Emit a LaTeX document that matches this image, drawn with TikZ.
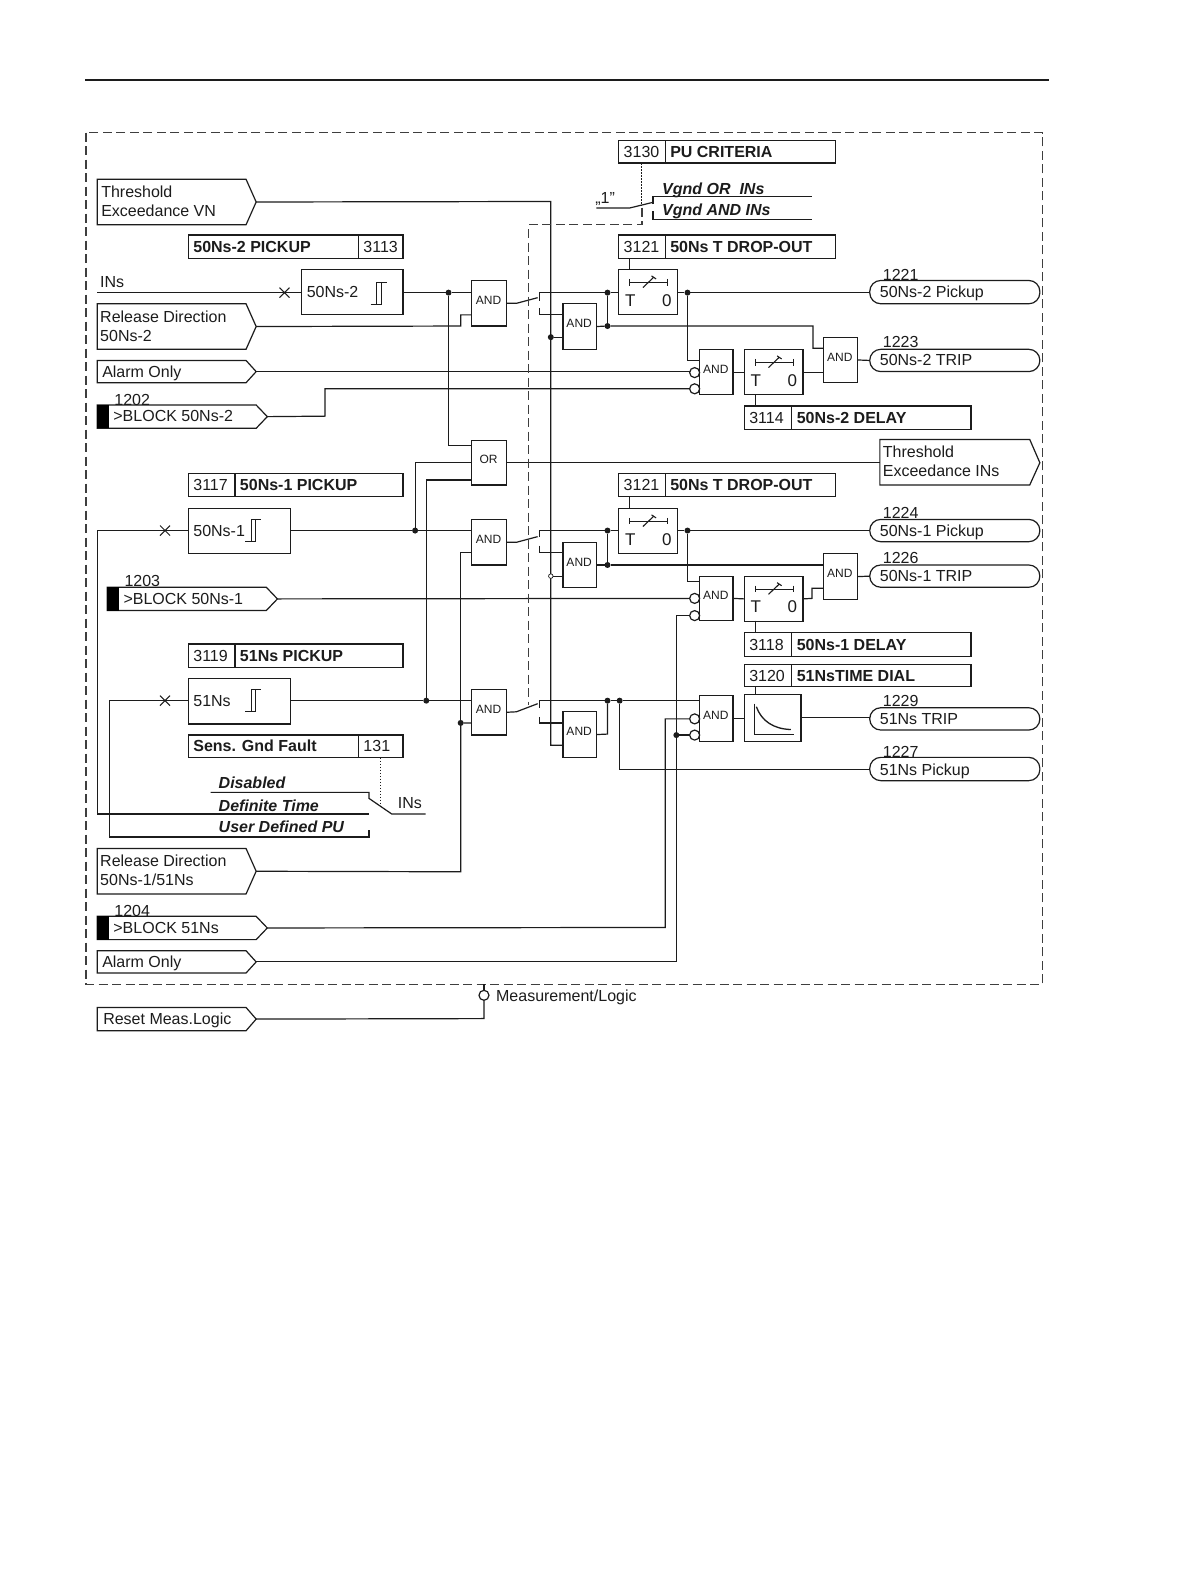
\documentclass[tikz,border=0pt]{standalone}
\usepackage{fontspec}
\setmainfont{Liberation Sans}
\usetikzlibrary{fit,shapes.misc,calc}
\definecolor{ink}{HTML}{1c1c1c}
\tikzset{
  txt/.style={anchor=west,inner sep=0pt,outer sep=0pt,text=ink,font=\fontsize{16}{19}\selectfont,text height=11.5pt,text depth=0pt},
  mtxt/.style={anchor=west,inner sep=0pt,outer sep=0pt,text=ink,font=\fontsize{16}{19}\selectfont,align=left},
  btxt/.style={txt,font=\fontsize{16}{19}\selectfont\bfseries},
  itxt/.style={txt,font=\fontsize{16}{19}\selectfont\bfseries\itshape},
  gtxt/.style={inner sep=0pt,text=ink,font=\fontsize{12}{14}\selectfont},
  ttxt/.style={inner sep=0pt,text=ink,font=\fontsize{17}{19}\selectfont},
  bx/.style={draw=ink,line width=1.2pt,inner sep=0pt,outer sep=0pt},
  dot/.style={circle,fill=ink,inner sep=0pt,outer sep=0pt,minimum size=6pt},
  odot/.style={circle,draw=ink,line width=0.7pt,fill=white,inner sep=0pt,minimum size=4.5pt},
  inv/.style={circle,draw=ink,line width=1.2pt,fill=white,inner sep=0pt,outer sep=0pt,minimum size=10pt},
  xm/.style={cross out,draw=ink,line width=1pt,inner sep=0pt,outer sep=0pt,minimum size=10pt},
  dsh/.style={draw=ink!85,line width=1.2pt,dash pattern=on 9pt off 4.5pt},
  dotl/.style={draw=ink,line width=0.9pt,dash pattern=on 1.5pt off 1.5pt},
}
% box by corners
\newcommand{\bxx}[6][]{\path (#3,#4) coordinate (#2-a) (#5,#6) coordinate (#2-b);
  \node[bx,fit=(#2-a)(#2-b),#1] (#2) {};}
% gate: name,x1,y1,x2,y2,label
\newcommand{\gate}[6]{\bxx{#1}{#2}{#3}{#4}{#5}\node[gtxt,yshift=3pt,xshift=-0.5pt] (#1-t) at (#1.center) {#6};}
% parameter table: number left, bold title right
\newcommand{\ptab}[8]{\bxx{#1-l}{#2}{#3}{#4}{#6}\bxx{#1-r}{#4}{#3}{#5}{#6}
  \node[txt] (#1-lt) at ($(#2+5,#3)!.5!(#2+5,#6)$) {#7};
  \node[btxt] (#1-rt) at ($(#4+5,#3)!.5!(#4+5,#6)$) {#8};}
% same, bold title left, number right
\newcommand{\qtab}[8]{\bxx{#1-l}{#2}{#3}{#4}{#6}\bxx{#1-r}{#4}{#3}{#5}{#6}
  \node[btxt] (#1-lt) at ($(#2+5,#3)!.5!(#2+5,#6)$) {#7};
  \node[txt] (#1-rt) at ($(#4+5,#3)!.5!(#4+5,#6)$) {#8};}
% pentagon: name,x1,y1,shoulder,tip,y2 ; coordinate name at the tip
\newcommand{\pent}[6]{\draw[ink,line width=1.2pt] (#2,#3) -- (#4,#3) -- (#5,{(#3+#6)/2}) coordinate (#1) -- (#4,#6) -- (#2,#6) -- cycle;}
% timer: name,x,y
\newcommand{\tmr}[3]{\bxx{#1}{#2}{#3}{#2+58}{#3+45}
  \begin{scope}[shift={(#2,#3)}]
    \draw[ink,line width=1.1pt] (11,9.5) -- (11,16) (11,12.8) -- (48.5,12.8) (48.5,9.5) -- (48.5,16);
    \draw[ink,line width=1.1pt] (24,18) -- (35,7.5) (32.5,6.5) -- (37,9.5);
    \node[ttxt] (#1-T) at (11.5,30.5) {T};
    \node[ttxt] (#1-O) at (47.5,30.5) {0};
  \end{scope}}
% hysteresis symbol centred at x,y
\newcommand{\hyst}[2]{\begin{scope}[shift={(#1,#2)}]
    \draw[ink,line width=1.1pt] (-8,11) -- (2.5,11) -- (2.5,-11) (-2,11) -- (-2,-11) -- (8,-11);
  \end{scope}}
\begin{document}
\begin{tikzpicture}[x=1.0125pt,y=-1.0125pt]
\useasboundingbox (0,0) rectangle (1176.3,1567.4);
\fill[white] (0,0) rectangle (1176.3,1567.4);
\draw[ink,line width=1.1pt] (84,79) -- (1036,79);
\draw[dsh] (85,131) rectangle (1030,972);

% gates
\gate{a1}{466}{277}{500}{322}{AND}
\gate{a2}{556}{300}{589}{345}{AND}
\gate{a3}{691}{345}{724}{390}{AND}
\gate{a4}{813}{333}{847}{378}{AND}
\gate{or}{466}{435}{500}{479}{OR}
\gate{a5}{466}{513}{500}{558}{AND}
\gate{a6}{556}{536}{589}{580}{AND}
\gate{a7}{691}{569}{724}{613}{AND}
\gate{a8}{813}{547}{847}{592}{AND}
\gate{a9}{466}{681}{500}{726}{AND}
\gate{a10}{556}{703}{589}{748}{AND}
\gate{a11}{691}{687}{724}{732}{AND}

% timers
\tmr{t1}{611}{266}
\tmr{t2}{735}{345}
\tmr{t3}{611}{502}
\tmr{t4}{735}{569}
\bxx{cb}{735}{686}{791}{732}
\draw[ink,line width=1.1pt] (745,695) -- (745,725) -- (784,725);
\draw[ink,line width=1.3pt] (747,698) .. controls (752,712) and (764,720) .. (781,720.5);

% pickup boxes
\bxx{p2}{298}{266}{398}{311}
\node[txt] (p2-t) at (303,288) {50Ns-2};
\hyst{374}{290}
\bxx{p1}{186}{502}{287}{547}
\node[txt] (p1-t) at (191,524) {50Ns-1};
\hyst{250}{524}
\bxx{p3}{186}{670}{287}{715}
\node[txt] (p3-t) at (191,692) {51Ns};
\hyst{250}{692}

% parameter tables
\ptab{pu}{611}{139}{657}{825}{161}{3130}{PU CRITERIA}
\qtab{pk2}{186}{232}{354}{398}{255}{50Ns-2 PICKUP}{3113}
\ptab{dr1}{611}{232}{657}{825}{255}{3121}{50Ns T DROP-OUT}
\ptab{dl2}{735}{401}{782}{959}{424}{3114}{50Ns-2 DELAY}
\ptab{dr2}{611}{468}{657}{825}{490}{3121}{50Ns T DROP-OUT}
\ptab{pk1}{186}{468}{232}{398}{490}{3117}{50Ns-1 PICKUP}
\ptab{pk3}{186}{636}{232}{398}{659}{3119}{51Ns PICKUP}
\ptab{dl1}{735}{625}{782}{959}{648}{3118}{50Ns-1 DELAY}
\ptab{td}{735}{656}{782}{959}{678}{3120}{51NsTIME DIAL}
\qtab{sgf}{186}{726}{354}{398}{748}{Sens. Gnd Fault}{131}

% input pentagons
\pent{tvn}{96}{177}{243}{253}{222}
\node[mtxt] (tvn-t) at (100,199) {Threshold\\Exceedance VN};
\pent{rd2}{96}{300}{243}{253}{345}
\node[mtxt] (rd2-t) at (99,322) {Release Direction\\50Ns-2};
\pent{al1}{96}{356}{243}{253}{378}
\node[txt] (al1-t) at (101,367) {Alarm Only};
\pent{bl2}{96}{400}{253}{264}{423}
\fill[black] (96,400) rectangle (108,423);
\node[txt] (bl2-t) at (112,411) {>BLOCK 50Ns-2};
\node[txt] (n1202) at (113,395) {1202};
\pent{bl1}{106}{580}{263}{274}{603}
\fill[black] (106,580) rectangle (118,603);
\node[txt] (bl1-t) at (122,591) {>BLOCK 50Ns-1};
\node[txt] (n1203) at (123,574) {1203};
\pent{rd1}{96}{838}{243}{253}{883}
\node[mtxt] (rd1-t) at (99,860) {Release Direction\\50Ns-1/51Ns};
\pent{bl3}{96}{905}{253}{264}{928}
\fill[black] (96,905) rectangle (108,928);
\node[txt] (bl3-t) at (112,916) {>BLOCK 51Ns};
\node[txt] (n1204) at (113,899) {1204};
\pent{al2}{96}{939}{243}{253}{961}
\node[txt] (al2-t) at (101,950) {Alarm Only};
\pent{rst}{96}{995}{243}{253}{1018}
\node[txt] (rst-t) at (102,1006) {Reset Meas.Logic};
% output pentagon
\path (869,457) coordinate (tins);
\draw[ink,line width=1.2pt] (869,434) -- (1017,434) -- (1027,457) -- (1017,479) -- (869,479) -- cycle;
\node[mtxt] (tins-t) at (872,456) {Threshold\\Exceedance INs};

% output lozenges
\bxx[rounded corners=11pt]{o1}{859}{277}{1027}{300}
\node[txt] (o1-t) at (869,288) {50Ns-2 Pickup};
\node[txt] (n1221) at (872,271) {1221};
\bxx[rounded corners=11pt]{o2}{859}{345}{1027}{367}
\node[txt] (o2-t) at (869,355) {50Ns-2 TRIP};
\node[txt] (n1223) at (872,338) {1223};
\bxx[rounded corners=11pt]{o3}{859}{513}{1027}{535}
\node[txt] (o3-t) at (869,524) {50Ns-1 Pickup};
\node[txt] (n1224) at (872,506) {1224};
\bxx[rounded corners=11pt]{o4}{859}{558}{1027}{580}
\node[txt] (o4-t) at (869,569) {50Ns-1 TRIP};
\node[txt] (n1226) at (872,551) {1226};
\bxx[rounded corners=11pt]{o5}{859}{699}{1027}{721}
\node[txt] (o5-t) at (869,710) {51Ns TRIP};
\node[txt] (n1229) at (872,692) {1229};
\bxx[rounded corners=11pt]{o6}{859}{748}{1027}{771}
\node[txt] (o6-t) at (869,760) {51Ns Pickup};
\node[txt] (n1227) at (872,742) {1227};

% free labels
\node[txt] (ins1) at (99,278) {INs};
\node[txt] (ins2) at (393,793) {INs};
\node[txt] (q1) at (588,195) {„1"};
\node[itxt] (vor) at (654,186) {Vgnd OR\ \ INs};
\node[itxt] (vand) at (654,207) {Vgnd AND INs};
\node[itxt] (dis) at (216,773) {Disabled};
\node[itxt] (dft) at (216,796) {Definite Time};
\node[itxt] (udp) at (216,817) {User Defined PU};
\node[txt] (ml) at (490,983) {Measurement/Logic};

% junctions and named free ends
\node[dot] (d1) at (443,289) {};
\node[dot] (d2) at (600,289) {};
\node[dot] (d3) at (600,322) {};
\node[dot] (d4) at (679,289) {};
\node[dot] (d5) at (544,333) {};
\node[dot] (d6) at (410,524) {};
\node[dot] (d7) at (600,524) {};
\node[dot] (d8) at (600,558) {};
\node[dot] (d9) at (679,524) {};
\node[dot] (d10) at (421,692) {};
\node[dot] (d11) at (455,714) {};
\node[dot] (d12) at (600,692) {};
\node[dot] (d13) at (612,692) {};
\node[dot] (d14) at (668,726) {};
\coordinate (inl) at (96,289);
\coordinate (c1) at (96,524);
\coordinate (c2) at (108,692);
\coordinate (sdis) at (208,782.6);
\coordinate (sdef) at (364.4,804);
\coordinate (sudp) at (364.4,826.7);

% inverted inputs
\node[inv,anchor=east] (i1) at (691,368) {};
\node[inv,anchor=east] (i2) at (691,384) {};
\node[inv,anchor=east] (i3) at (691,591) {};
\node[inv,anchor=east] (i4) at (691,608) {};
\node[inv,anchor=east] (i5) at (691,710) {};
\node[inv,anchor=east] (i6) at (691,726) {};
\node[inv] (i7) at (478,983) {};

% connectors
\begin{scope}[ink,line width=1.2pt]
% tier 1
\draw (inl) -- (p2.west |- inl);
\node[xm] (x1) at (281,289) {};
\draw (p2.east |- d1) -- (d1) -- (a1.west |- d1);
\draw (d1) -- (443,440) -- (or.west |- 0,440);
\draw (rd2) -- (455,322) -- (455,311) -- (a1.west |- 0,311);
\draw (al1) -- (i1.west |- al1) ;
\draw (bl2) -- (321,411) -- (321,384) -- (i2.west);
\draw (a1.east) -- (510,299.6) -- (531,294);
\draw (533,297) -- (533,289) -- (d2) -- (t1.west |- d2);
\draw (533,304.5) -- (533,311) -- (a2.west |- 0,311);
\draw (d2) -- (d3);
\draw (a2.east) -- (d3) -- (803,322) -- (803,344) -- (a4.west |- 0,344);
\draw (t1.east |- d4) -- (d4) -- (o1.west |- d4);
\draw (d4) -- (679,356) -- (a3.west |- 0,356);
\draw (a3.east) -- (t2.west);
\draw (t2.east) -- (a4.west |- t2.east);
\draw (a4.east) -- (o2.west);
\draw (622,255) -- (622,266);
\draw (746,390) -- (746,401);
% threshold VN rail
\draw (tvn) -- (544,199) -- (544,736) -- (a10.west |- 0,736);
\draw (d5) -- (a2.west |- d5);
\node[odot] (d15) at (544,569) {};
\draw (d15) -- (a6.west |- d15);
% OR
\draw (or.east) -- (tins);
\draw (d6) -- (410,457) -- (or.west);
\draw (d10) -- (421,474) -- (or.west |- 0,474);
% tier 2
\draw (c1) -- (p1.west |- c1);
\node[xm] (x2) at (163,524) {};
\draw (c1) -- (96,804) -- (sdef);
\draw (p1.east |- d6) -- (d6) -- (a5.west |- d6);
\draw (a5.east) -- (510,535.6) -- (531,530);
\draw (533,530) -- (533,524) -- (d7) -- (t3.west |- d7);
\draw (533,539) -- (533,546) -- (a6.west |- 0,546);
\draw (d7) -- (d8);
\draw (a6.east) -- (d8) -- (a8.west |- d8);
\draw (t3.east |- d9) -- (d9) -- (o3.west |- d9);
\draw (d9) -- (679,574.5) -- (a7.west |- 0,574.5);
\draw (bl1) -- (i3.west);
\draw (a7.east) -- (t4.west);
\draw (t4.east) -- (802,591) -- (802,581) -- (a8.west |- 0,581);
\draw (a8.east) -- (o4.west);
\draw (622,490) -- (622,502);
\draw (746,613) -- (746,625);
% tier 3
\draw (c2) -- (p3.west |- c2);
\node[xm] (x3) at (163,692) {};
\draw (c2) -- (108,826.7) -- (sudp) -- (364.4,820);
\draw (p3.east |- d10) -- (d10) -- (a9.west |- d10);
\draw (rd1) -- (455,861) -- (d11) -- (a9.west |- d11);
\draw (d11) -- (455,546) -- (a5.west |- 0,546);
\draw (a9.east) -- (510,703) -- (531,695);
\draw (533,699) -- (533,692) -- (d12) -- (d13) -- (a11.west |- d13);
\draw (533,708) -- (533,714) -- (a10.west |- 0,714);
\draw (a10.east) -- (600,725) -- (d12);
\draw (d13) -- (612,760) -- (o6.west |- 0,760);
\draw (bl3) -- (657,916) -- (657,710) -- (i5.west);
\draw (al2) -- (668,950) -- (d14) -- (i6.west);
\draw (d14) -- (668,608) -- (i4.west);
\draw (a11.east) -- (cb.west |- a11.east);
\draw (cb.east) -- (o5.west |- cb.east);
\draw (746,678) -- (746,686);
% mode switch
\draw (sdis) -- (364.4,782.6) -- (364.4,788.5) -- (387,804) -- (420.4,804);
% PU switch
\draw (589,205.4) -- (622,205.4) -- (645,199.8);
\draw (645,201.5) -- (645,194.2) -- (802,194.2);
\draw (645,208.4) -- (645,216.6) -- (802,216.6);
% reset
\draw (rst) -- (478,1006) -- (i7.south);
\draw (i7.north) -- (478,972);
\end{scope}

% setting links
\draw[dotl] (375.6,748.4) -- (375.6,796.3);
\draw[dotl] (634,161) -- (634,203);
\draw[dsh] (634,205) -- (634,222) -- (522,222) -- (522,696);
\end{tikzpicture}
\end{document}
